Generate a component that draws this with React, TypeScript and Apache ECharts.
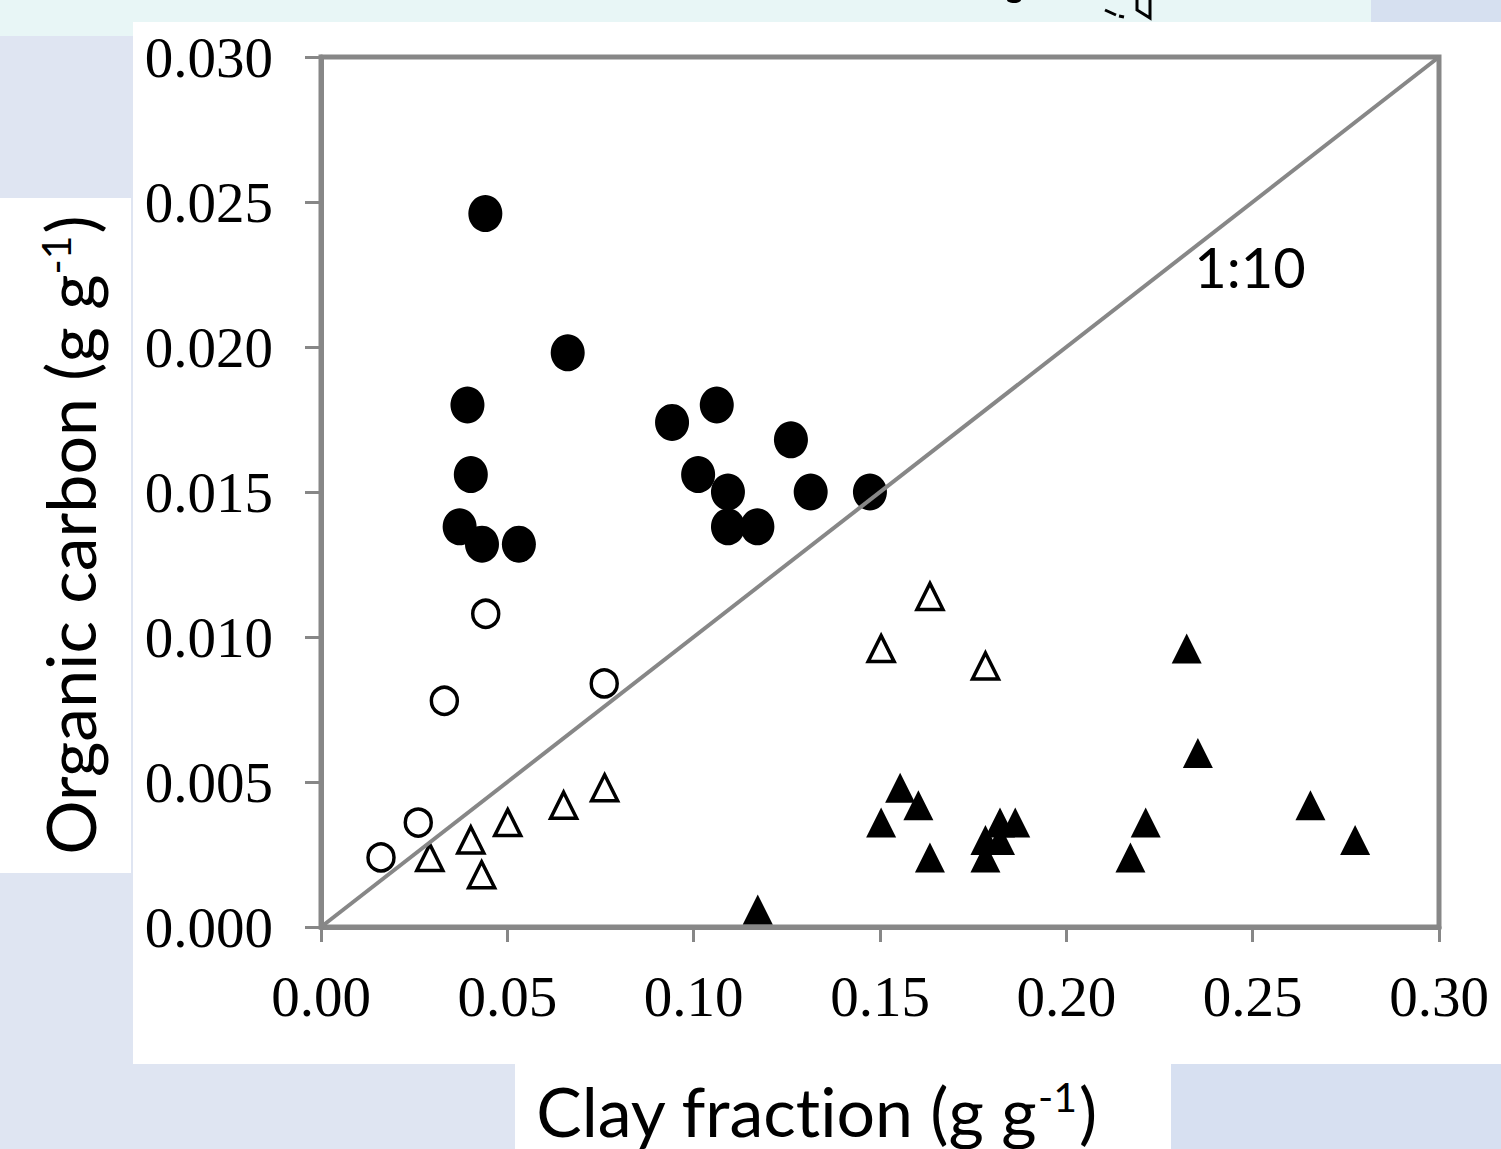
import React, { useEffect, useRef } from "react";
import * as echarts from "echarts";

// ---- data (clay fraction g/g, organic carbon g/g) ----
const xTicks = [0, 0.05, 0.1, 0.15, 0.2, 0.25, 0.3];
const yTicks = [0, 0.005, 0.01, 0.015, 0.02, 0.025, 0.03];

const filledCircles: [number, number][] = [
  [0.0441, 0.0246],
  [0.0662, 0.0198],
  [0.0393, 0.018],
  [0.0942, 0.0174],
  [0.1062, 0.018],
  [0.1261, 0.0168],
  [0.0402, 0.0156],
  [0.1012, 0.0156],
  [0.1092, 0.015],
  [0.1314, 0.015],
  [0.1473, 0.015],
  [0.0372, 0.0138],
  [0.0432, 0.0132],
  [0.0531, 0.0132],
  [0.1092, 0.0138],
  [0.1171, 0.0138],
];

const openCircles: [number, number][] = [
  [0.0442, 0.0108],
  [0.0331, 0.0078],
  [0.076, 0.0084],
  [0.0261, 0.0036],
  [0.0161, 0.0024],
];

const openTriangles: [number, number][] = [
  [0.0292, 0.0024],
  [0.0402, 0.003],
  [0.0431, 0.0018],
  [0.0501, 0.0036],
  [0.0651, 0.0042],
  [0.0761, 0.0048],
  [0.1634, 0.0114],
  [0.1503, 0.0096],
  [0.1783, 0.009],
];

const filledTriangles: [number, number][] = [
  [0.2323, 0.0096],
  [0.2353, 0.006],
  [0.1554, 0.0048],
  [0.1603, 0.0042],
  [0.1503, 0.0036],
  [0.2655, 0.0042],
  [0.2213, 0.0036],
  [0.1863, 0.0036],
  [0.1822, 0.0036],
  [0.1783, 0.003],
  [0.1822, 0.003],
  [0.1783, 0.0024],
  [0.1634, 0.0024],
  [0.2172, 0.0024],
  [0.2775, 0.003],
  [0.1172, 0.0006],
];

const ratioLine: [number, number][] = [
  [0, 0],
  [0.3, 0.03],
];

const xTitle = "Clay fraction (g g";
const yTitle = "Organic carbon (g g";
const unitSup = "-1";
const lineLabel = "1:10";

const AXIS = "#878787";
const SANS = "Lato, 'Noto Sans', sans-serif";
const SERIF = "'Liberation Serif', 'DejaVu Serif', serif";

const bgBlocks: { left: number; top: number; width: number; height: number; color: string }[] = [
  { left: 0, top: 0, width: 1371, height: 36, color: "#e8f6f6" },
  { left: 1371, top: 0, width: 130, height: 22, color: "#d6e0f0" },
  { left: 133, top: 22, width: 1368, height: 1042, color: "#ffffff" },
  { left: 0, top: 198, width: 131, height: 675, color: "#ffffff" },
  { left: 515, top: 1064, width: 656, height: 85, color: "#ffffff" },
  { left: 1171, top: 1064, width: 330, height: 85, color: "#d7e0f1" },
];

export default function App() {
  const ref = useRef<HTMLDivElement>(null);

  useEffect(() => {
    if (!ref.current) return;
    const chart = echarts.init(ref.current, undefined, { renderer: "svg" });
    const axisCommon = {
      axisLine: { show: true, onZero: false, lineStyle: { color: AXIS, width: 5 } },
      axisTick: { show: true, inside: false, lineStyle: { color: AXIS, width: 3 } },
      splitLine: { show: false },
    };
    const titleRich = {
      t: { fontFamily: SANS, fontSize: 68, fill: "#000" },
      s: { fontFamily: SANS, fontSize: 41, fill: "#000", verticalAlign: "top", padding: [0, 2, 27, 0] },
    };
    chart.setOption({
      animation: false,
      backgroundColor: "transparent",
      grid: {
        left: 321,
        right: 62,
        top: 57,
        bottom: 222,
        show: true,
        borderColor: AXIS,
        borderWidth: 5,
        backgroundColor: "transparent",
      },
      xAxis: {
        type: "value",
        min: 0,
        max: 0.3,
        interval: 0.05,
        ...axisCommon,
        axisTick: { ...axisCommon.axisTick, length: 15 },
        axisLabel: {
          color: "#000",
          fontFamily: SERIF,
          fontSize: 57,
          lineHeight: 57,
          margin: 41,
          formatter: (v: number) => v.toFixed(2),
        },
      },
      yAxis: {
        type: "value",
        min: 0,
        max: 0.03,
        interval: 0.005,
        ...axisCommon,
        axisTick: { ...axisCommon.axisTick, length: 16 },
        axisLabel: {
          color: "#000",
          fontFamily: SERIF,
          fontSize: 57,
          margin: 48,
          formatter: (v: number) => v.toFixed(3),
        },
      },
      graphic: [
        {
          type: "text",
          x: 816,
          y: 1110,
          style: {
            text: `{t|${xTitle}}{s|${unitSup}}{t|)}`,
            align: "center",
            verticalAlign: "middle",
            rich: titleRich,
          },
        },
        {
          type: "text",
          x: 69,
          y: 535,
          rotation: Math.PI / 2,
          style: {
            text: `{t|${yTitle}}{s|${unitSup}}{t|)}`,
            align: "center",
            verticalAlign: "middle",
            rich: titleRich,
          },
        },
        {
          type: "text",
          x: 1250,
          y: 266,
          style: {
            text: lineLabel,
            fontFamily: SANS,
            fontSize: 56,
            fill: "#000",
            align: "center",
            verticalAlign: "middle",
          },
        },
        {
          type: "ellipse",
          shape: { cx: 1014, cy: 0, rx: 7, ry: 3 },
          style: { fill: "#000" },
        },
        {
          type: "polyline",
          shape: { points: [[1105, 10], [1116, 15]] },
          style: { stroke: "#000", lineWidth: 3, fill: null },
        },
        {
          type: "polyline",
          shape: { points: [[1119, 16], [1124, 17]] },
          style: { stroke: "#000", lineWidth: 3, fill: null },
        },
        {
          type: "polyline",
          shape: { points: [[1137, 0], [1137, 10], [1150, 18], [1150, 0]] },
          style: { stroke: "#000", lineWidth: 3, fill: null },
        },
      ],
      series: [
        {
          type: "scatter",
          data: filledCircles,
          symbol: "circle",
          symbolSize: [34, 37],
          itemStyle: { color: "#000", opacity: 1 },
          z: 2,
        },
        {
          type: "scatter",
          data: openCircles,
          symbol: "circle",
          symbolSize: [26, 27],
          itemStyle: { color: "#fff", borderColor: "#000", borderWidth: 3.5, opacity: 1 },
          z: 2,
        },
        {
          type: "scatter",
          data: openTriangles,
          symbol: "triangle",
          symbolSize: [26, 26],
          itemStyle: { color: "#fff", borderColor: "#000", borderWidth: 3.5, opacity: 1 },
          z: 2,
        },
        {
          type: "scatter",
          data: filledTriangles,
          symbol: "triangle",
          symbolSize: [30, 30],
          itemStyle: { color: "#000", opacity: 1 },
          z: 2,
        },
        {
          type: "line",
          data: ratioLine,
          symbol: "none",
          lineStyle: { color: AXIS, width: 4 },
          z: 3,
        },
      ],
    });
    return () => chart.dispose();
  }, []);

  return (
    <div
      style={{
        position: "fixed",
        left: 0,
        top: 0,
        width: 1501,
        height: 1149,
        background: "#dfe5f2",
        overflow: "hidden",
        fontVariantLigatures: "none",
      }}
    >
      {bgBlocks.map((b, i) => (
        <div
          key={i}
          style={{ position: "absolute", left: b.left, top: b.top, width: b.width, height: b.height, background: b.color }}
        />
      ))}
      <div ref={ref} style={{ position: "absolute", left: 0, top: 0, width: 1501, height: 1149 }} />
    </div>
  );
}
